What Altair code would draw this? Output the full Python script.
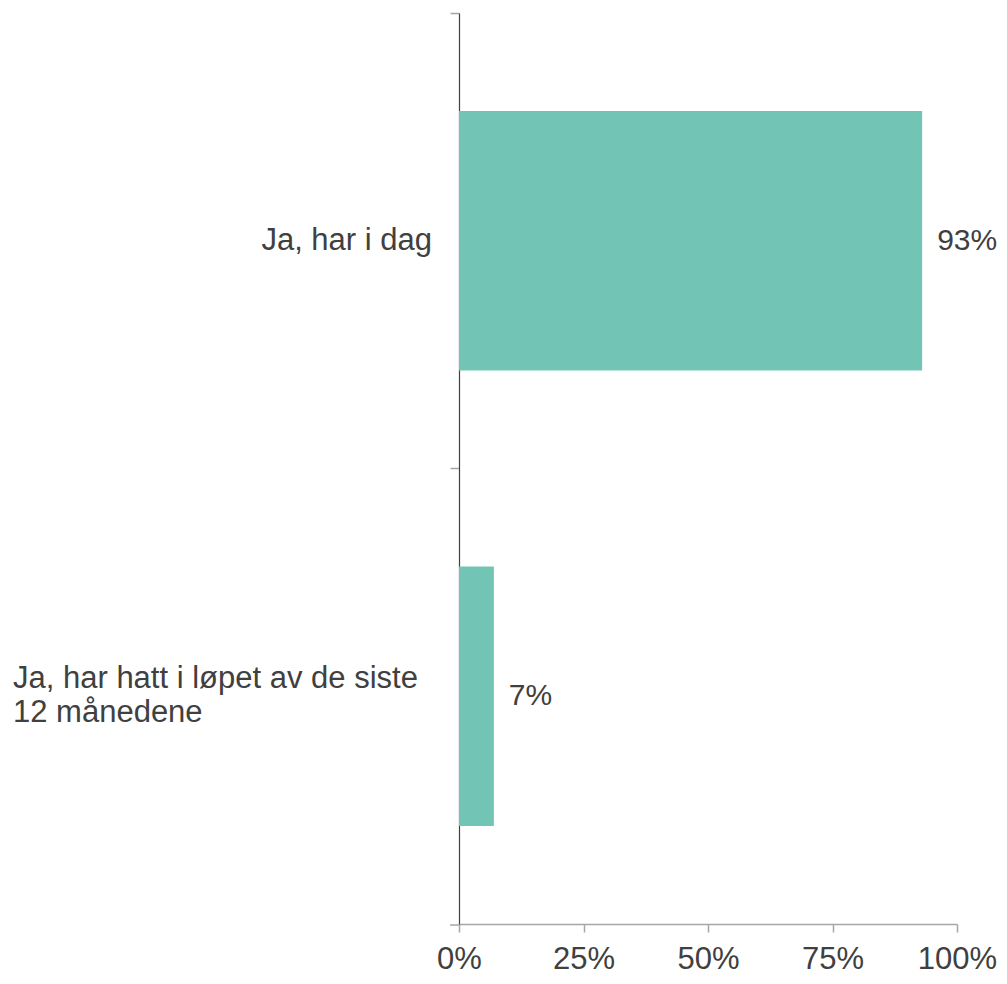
import altair as alt
import pandas as pd

categories = ["Ja, har i dag", "Ja, har hatt i løpet av de siste 12 månedene"]
label_lines = [["Ja, har i dag"], ["Ja, har hatt i løpet av de siste", "12 månedene"]]
values = [0.93, 0.07]
value_labels = ["93%", "7%"]

df = pd.DataFrame({
    "cat": categories,
    "value": values,
    "vlabel": value_labels,
    "lines": ["\n".join(l) for l in label_lines],
    "idx": [0, 1],
})

FONT = "Liberation Sans"
TXT = "#404040"
FS = 31

y_enc = alt.Y(
    "cat:N",
    sort=categories,
    scale=alt.Scale(paddingInner=0.43, paddingOuter=0.215),
    axis=alt.Axis(
        title=None, labels=False, domainColor="#404040", domainWidth=1.2,
        tickColor="#a6a6a6", tickSize=9, tickWidth=1.5, tickOffset=-228,
    ),
)

base = alt.Chart(df)

bars = base.mark_bar(color="#72c4b4").encode(
    x=alt.X(
        "value:Q",
        scale=alt.Scale(domain=[0, 1]),
        axis=alt.Axis(
            title=None, format=".0%", values=[0, 0.25, 0.5, 0.75, 1.0],
            grid=False, domainColor="#a6a6a6", domainWidth=1.5,
            tickColor="#a6a6a6", tickSize=8, tickWidth=1.5,
            labelFont=FONT, labelFontSize=FS, labelColor=TXT, labelPadding=12,
            labelFlush=False,
        ),
    ),
    y=y_enc,
)

# bottom category-boundary tick on the y axis
bottom_tick = base.transform_filter("datum.idx == 0").mark_rule(
    color="#a6a6a6", strokeWidth=1.5
).encode(x=alt.value(-9), x2=alt.value(0), y=alt.value(912))

vals = base.mark_text(
    align="left", baseline="middle", dx=15, font=FONT, fontSize=30, color=TXT
).encode(x="value:Q", y=alt.Y("cat:N", sort=categories), text="vlabel:N")

lab_right = base.transform_filter("datum.idx == 0").mark_text(
    align="right", baseline="middle", font=FONT, fontSize=FS, color=TXT,
    lineBreak="\n", lineHeight=34,
).encode(x=alt.value(-27), y=alt.Y("cat:N", sort=categories), text="lines:N")

lab_left = base.transform_filter("datum.idx == 1").mark_text(
    align="left", baseline="middle", font=FONT, fontSize=FS, color=TXT,
    lineBreak="\n", lineHeight=34, dy=-17,
).encode(x=alt.value(-446), y=alt.Y("cat:N", sort=categories), text="lines:N")

chart = alt.layer(bars, bottom_tick, vals, lab_right, lab_left).properties(
    width=991, height=966, background="white",
    padding={"left": 5, "top": 5, "right": 2, "bottom": 0},
    autosize=alt.AutoSizeParams(type="fit", contains="padding"),
).configure_view(stroke=None)

chart.save("out.html", embed_options={"renderer": "svg", "actions": False})
